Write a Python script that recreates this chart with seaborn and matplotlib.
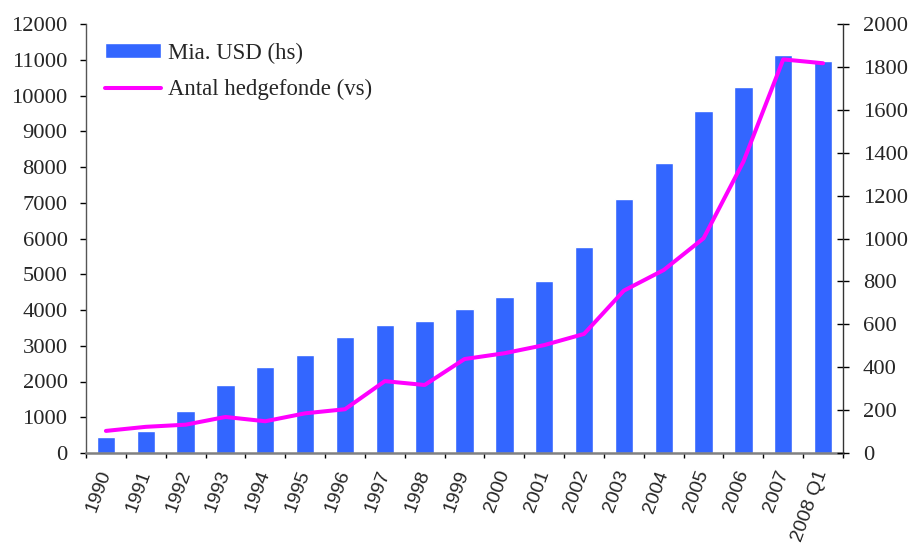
import numpy as np
import pandas as pd
import matplotlib
matplotlib.use("Agg")
import matplotlib.pyplot as plt
from matplotlib.ticker import MultipleLocator, FixedLocator
import seaborn as sns

# Hedge fund assets (bn USD, left axis) and number of funds (right axis)
years = ["1990", "1991", "1992", "1993", "1994", "1995", "1996", "1997", "1998",
         "1999", "2000", "2001", "2002", "2003", "2004", "2005", "2006", "2007",
         "2008 Q1"]
assets_bn_usd = [440, 610, 1170, 1900, 2400, 2740, 3240, 3580, 3690, 4030,
                 4360, 4810, 5760, 7100, 8110, 9570, 10240, 11130, 10970]
fund_count = [103, 122, 132, 168, 148, 185, 204, 335, 317, 438,
              465, 503, 555, 757, 853, 1001, 1358, 1835, 1817]

bar_label = "Mia. USD (hs)"
line_label = "Antal hedgefonde (vs)"

df = pd.DataFrame({"year": years, "assets": assets_bn_usd, "funds": fund_count})

sns.set_theme(style="white")
plt.rcParams["font.family"] = ["Liberation Serif", "DejaVu Serif"]

W, H = 908, 548
fig = plt.figure(figsize=(W / 100, H / 100), dpi=100)
L, R, T, B = 86, 843, 24, 453
ax = fig.add_axes([L / W, 1 - B / H, (R - L) / W, (B - T) / H])

sns.barplot(data=df, x="year", y="assets", ax=ax, color="#3366FF",
            saturation=1, width=0.46, label=bar_label)
ax2 = ax.twinx()
sns.lineplot(data=df, x="year", y="funds", ax=ax2, color="#FF00FF",
             linewidth=2.9, sort=False, label=line_label)

n = len(years)
ax.set_xlim(-0.5, n - 0.5)
ax.set_ylim(0, 12000)
ax2.set_ylim(0, 2000)
ax.yaxis.set_major_locator(MultipleLocator(1000))
ax2.yaxis.set_major_locator(MultipleLocator(200))
ax.set_xlabel("")
ax.set_ylabel("")
ax2.set_xlabel("")
ax2.set_ylabel("")

# category labels at centres, tick marks on the boundaries between categories
ax.set_xticks(range(n))
ax.set_xticklabels(years, rotation=70, ha="right", va="center",
                   rotation_mode="anchor", family="Liberation Sans",
                   fontsize=14)
ax.xaxis.set_minor_locator(FixedLocator(np.arange(-0.5, n, 1.0)))
ax.tick_params(axis="x", which="major", length=0, pad=13)
ax.tick_params(axis="x", which="minor", length=3.6, width=1, color="black",
               direction="out", bottom=True)

ax.tick_params(axis="y", which="major", length=4.3, width=1, color="black",
               direction="out", labelsize=16.2, pad=9, left=True)
ax2.tick_params(axis="y", which="major", length=8.6, width=1, color="black",
                direction="inout", labelsize=16.2, pad=10, right=True)

for a in (ax, ax2):
    a.spines["top"].set_visible(False)
    a.grid(False)
ax.spines["right"].set_visible(False)
ax2.spines["left"].set_visible(False)
ax2.spines["bottom"].set_visible(False)
ax.spines["left"].set_color("#555555")
ax.spines["left"].set_linewidth(1)
ax.spines["bottom"].set_color("#808080")
ax.spines["bottom"].set_linewidth(1.8)
ax2.spines["right"].set_color("#333333")
ax2.spines["right"].set_linewidth(1)

# merged legend from both axes
h1, l1 = ax.get_legend_handles_labels()
h2, l2 = ax2.get_legend_handles_labels()
if ax2.get_legend() is not None:
    ax2.get_legend().remove()
ax.legend(h1 + h2, l1 + l2, loc="upper left",
          bbox_to_anchor=((105 - L) / (R - L), (B - 42.5) / (B - T)),
          frameon=False, fontsize=16.4, handlelength=2.45, handleheight=0.6,
          handletextpad=0.3, labelspacing=0.68, borderpad=0, borderaxespad=0)
ax2.set_zorder(ax.get_zorder() + 1)
ax2.patch.set_visible(False)

fig.savefig("out.png", dpi=100)
